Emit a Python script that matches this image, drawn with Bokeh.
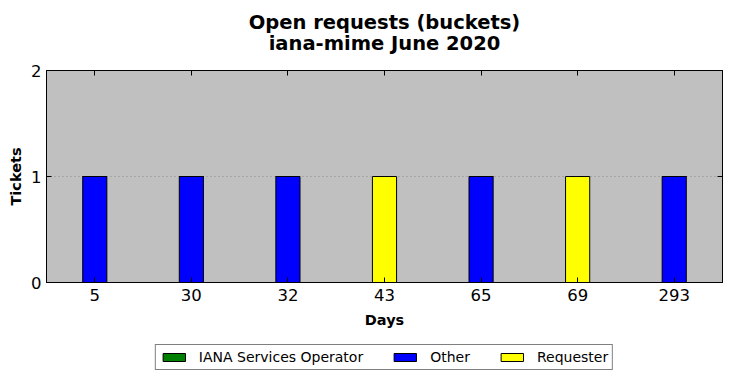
from bokeh.plotting import figure
from bokeh.layouts import column
from bokeh.models import (FactorRange, Range1d, CategoricalAxis, LinearAxis, FixedTicker,
                          Legend, LegendItem, Label, ColumnDataSource)
from bokeh.embed import file_html
from bokeh.resources import INLINE

days = ["5", "30", "32", "43", "65", "69", "293"]
iana = [0, 0, 0, 0, 0, 0, 0]
other = [1, 1, 1, 0, 1, 0, 1]
requester = [0, 0, 0, 1, 0, 1, 0]
series = ["IANA Services Operator", "Other", "Requester"]
colors = ["#008000", "#0000ff", "#ffff00"]
y_ticks = [0, 1, 2]
title_lines = ["Open requests (buckets)", "iana-mime June 2020"]

FONT = "DejaVu Sans"

source = ColumnDataSource(dict(days=days, iana=iana, other=other, requester=requester))

# ---- title strip ----
tt = figure(x_range=Range1d(0, 1), y_range=Range1d(62, 0),
            frame_width=676, frame_height=62, output_backend="svg", toolbar_location=None,
            min_border_left=46, min_border_right=9, min_border_top=0, min_border_bottom=0,
            x_axis_location=None, y_axis_location=None)
tt.title = None
tt.outline_line_color = None
tt.background_fill_color = "white"
tt.xgrid.grid_line_color = None
tt.ygrid.grid_line_color = None
for txt, yb in zip(title_lines, (22, 43)):
    tt.add_layout(Label(x=0.5, y=yb, text=txt, text_align="center", text_baseline="alphabetic",
                        text_font=FONT, text_font_size="19.5px", text_font_style="bold",
                        text_color="black"))

# ---- main chart ----
p = figure(x_range=FactorRange(*days), y_range=Range1d(0, 2),
           frame_width=676, frame_height=212, output_backend="svg", toolbar_location=None,
           min_border_left=46, min_border_right=9, min_border_top=8, min_border_bottom=53,
           x_axis_location=None, y_axis_location=None)
p.title = None
p.background_fill_color = "#c0c0c0"
p.border_fill_color = "white"
p.outline_line_color = "black"
p.outline_line_width = 1

rs = p.vbar_stack(["iana", "other", "requester"], x="days", width=0.25, source=source,
                  fill_color=colors, line_color="black", line_width=1)

xb = CategoricalAxis(axis_label="Days")
yl = LinearAxis(axis_label="Tickets", ticker=FixedTicker(ticks=y_ticks))
xt = CategoricalAxis()
yr = LinearAxis(ticker=FixedTicker(ticks=y_ticks))
for ax in (xb, yl, xt, yr):
    ax.major_tick_in = 5
    ax.major_tick_out = 0
    ax.minor_tick_in = 0
    ax.minor_tick_out = 0
    ax.axis_line_color = "black"
    ax.major_tick_line_color = "black"
    ax.major_label_text_font = FONT
    ax.major_label_text_font_size = "16.5px"
    ax.major_label_text_color = "black"
    ax.axis_label_text_font = FONT
    ax.axis_label_text_font_style = "bold"
    ax.axis_label_text_font_size = "14.5px"
    ax.axis_label_text_color = "black"
for ax in (xt, yr):
    ax.major_label_text_font_size = "1px"
    ax.major_label_text_color = None
    ax.major_label_standoff = 0
xb.major_label_standoff = 6
xb.axis_label_standoff = 8
yl.major_label_standoff = 5
yl.axis_label_standoff = 4

p.add_layout(xb, "below")
p.add_layout(yl, "left")
p.add_layout(xt, "above")
p.add_layout(yr, "right")

p.xgrid.grid_line_color = None
p.ygrid.ticker = FixedTicker(ticks=[1])
p.ygrid.grid_line_color = "#8c8c8c"
p.ygrid.grid_line_dash = "1 3"
p.ygrid.grid_line_width = 1

# ---- legend strip ----
lg = figure(x_range=FactorRange(*days), y_range=Range1d(2, 3),
            frame_width=676, frame_height=43, output_backend="svg", toolbar_location=None,
            min_border_left=46, min_border_right=9, min_border_top=0, min_border_bottom=0,
            x_axis_location=None, y_axis_location=None)
lg.title = None
lg.outline_line_color = None
lg.background_fill_color = "white"
lg.xgrid.grid_line_color = None
lg.ygrid.grid_line_color = None
# same stacked series; bars fall outside this strip's range, only their legend keys show
proxies = lg.vbar_stack(["iana", "other", "requester"], x="days", width=0.25, source=source,
                        fill_color=colors, line_color="black", line_width=1)
legend = Legend(items=[LegendItem(label=s, renderers=[r]) for s, r in zip(series, proxies)],
                orientation="horizontal", location="center",
                label_text_font=FONT, label_text_font_size="14px", label_text_color="black",
                glyph_width=28, glyph_height=10, label_standoff=11, spacing=28,
                padding=4, label_height=14, border_line_color="black",
                border_line_width=1, background_fill_color="white",
                background_fill_alpha=1, margin=0)
lg.add_layout(legend, "center")

layout = column(tt, p, lg, spacing=0)
open("out.html", "w").write(file_html(layout, INLINE))
